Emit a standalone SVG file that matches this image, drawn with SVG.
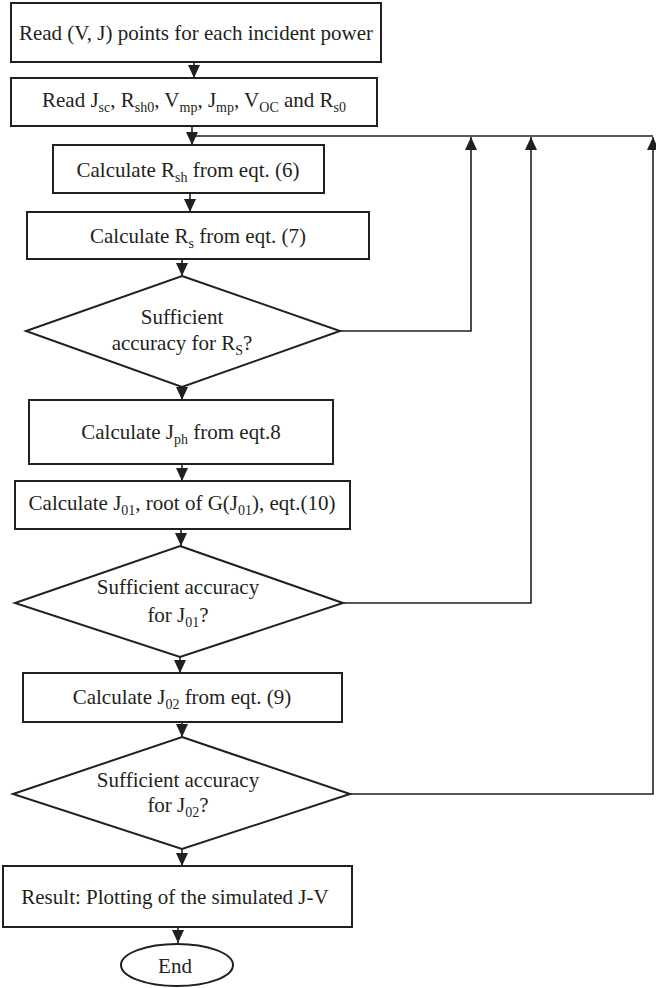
<svg xmlns="http://www.w3.org/2000/svg" width="656" height="988" viewBox="0 0 656 988">
<style>
.n{fill:#fff;stroke:#231f20;stroke-width:2}
.t{font-family:"Liberation Serif","Times New Roman",serif;font-size:21px;fill:#231f20;text-anchor:middle}
.s{font-size:14px}
.c{fill:none;stroke:#231f20;stroke-width:1.6}
</style>
<defs>
<marker id="ah" markerUnits="userSpaceOnUse" markerWidth="14" markerHeight="14" viewBox="0 0 14 14" refX="13" refY="7" orient="auto">
<path d="M0,1 L13,7 L0,13 Z" fill="#231f20"/>
</marker>
</defs>
<rect width="656" height="988" fill="#fff"/>
<g id="connectors">
<line class="c" x1="194" y1="62" x2="194" y2="78" marker-end="url(#ah)"/>
<line class="c" x1="192" y1="126" x2="192" y2="145" marker-end="url(#ah)"/>
<polyline class="c" points="192,136 653,136"/>
<line class="c" x1="190" y1="193" x2="190" y2="212" marker-end="url(#ah)"/>
<line class="c" x1="182" y1="259" x2="182" y2="276" marker-end="url(#ah)"/>
<line class="c" x1="182" y1="387" x2="182" y2="400" marker-end="url(#ah)"/>
<line class="c" x1="182" y1="464" x2="182" y2="481" marker-end="url(#ah)"/>
<line class="c" x1="181" y1="529" x2="181" y2="546" marker-end="url(#ah)"/>
<line class="c" x1="180" y1="657" x2="180" y2="673" marker-end="url(#ah)"/>
<line class="c" x1="182" y1="722" x2="182" y2="737" marker-end="url(#ah)"/>
<line class="c" x1="182" y1="849" x2="182" y2="866" marker-end="url(#ah)"/>
<line class="c" x1="178" y1="927" x2="178" y2="943" marker-end="url(#ah)"/>
<polyline class="c" points="340,331 471,331 471,137" marker-end="url(#ah)"/>
<polyline class="c" points="322,603 531,603 531,137" marker-end="url(#ah)"/>
<polyline class="c" points="318,794 653,794 653,137" marker-end="url(#ah)"/>
</g>
<g id="read-points">
<rect class="n" x="11" y="3" width="370" height="59"/>
<text class="t" x="196" y="40">Read (V, J) points for each incident power</text>
</g>
<g id="read-params">
<rect class="n" x="11" y="78" width="366" height="48"/>
<text class="t" x="194" y="107">Read J<tspan class="s" dy="5">sc</tspan><tspan dy="-5">, R</tspan><tspan class="s" dy="5">sh0</tspan><tspan dy="-5">, V</tspan><tspan class="s" dy="5">mp</tspan><tspan dy="-5">, J</tspan><tspan class="s" dy="5">mp</tspan><tspan dy="-5">, V</tspan><tspan class="s" dy="5">OC</tspan><tspan dy="-5"> and R</tspan><tspan class="s" dy="5">s0</tspan></text>
</g>
<g id="calc-rsh">
<rect class="n" x="53" y="145" width="271" height="48"/>
<text class="t" x="188" y="177">Calculate R<tspan class="s" dy="5">sh</tspan><tspan dy="-5"> from eqt. (6)</tspan></text>
</g>
<g id="calc-rs">
<rect class="n" x="27" y="212" width="342" height="47"/>
<text class="t" x="198" y="243">Calculate R<tspan class="s" dy="5">s</tspan><tspan dy="-5"> from eqt. (7)</tspan></text>
</g>
<g id="check-rs">
<polygon class="n" points="182,276 340,331 182,387 26,331"/>
<text class="t" x="182" y="324">Sufficient</text>
<text class="t" x="182" y="350">accuracy for R<tspan class="s" dy="5">S</tspan><tspan dy="-5">?</tspan></text>
</g>
<g id="calc-jph">
<rect class="n" x="29" y="400" width="304" height="64"/>
<text class="t" x="181" y="439">Calculate J<tspan class="s" dy="5">ph</tspan><tspan dy="-5"> from eqt.8</tspan></text>
</g>
<g id="calc-j01">
<rect class="n" x="15" y="481" width="335" height="48"/>
<text class="t" x="182" y="510">Calculate J<tspan class="s" dy="5">01</tspan><tspan dy="-5">, root of G(J</tspan><tspan class="s" dy="5">01</tspan><tspan dy="-5">), eqt.(10)</tspan></text>
</g>
<g id="check-j01">
<polygon class="n" points="180,546 343,603 180,657 15,603"/>
<text class="t" x="178" y="594">Sufficient accuracy</text>
<text class="t" x="178" y="622">for J<tspan class="s" dy="5">01</tspan><tspan dy="-5">?</tspan></text>
</g>
<g id="calc-j02">
<rect class="n" x="23" y="673" width="319" height="49"/>
<text class="t" x="182" y="704">Calculate J<tspan class="s" dy="5">02</tspan><tspan dy="-5"> from eqt. (9)</tspan></text>
</g>
<g id="check-j02">
<polygon class="n" points="182,737 350,794 182,849 13,794"/>
<text class="t" x="178" y="787">Sufficient accuracy</text>
<text class="t" x="178" y="812">for J<tspan class="s" dy="5">02</tspan><tspan dy="-5">?</tspan></text>
</g>
<g id="result">
<rect class="n" x="3" y="866" width="349" height="61"/>
<text class="t" x="175" y="904">Result: Plotting of the simulated J-V</text>
</g>
<g id="end">
<ellipse class="n" cx="177" cy="965" rx="56" ry="21"/>
<text class="t" x="175" y="973">End</text>
</g>
</svg>
